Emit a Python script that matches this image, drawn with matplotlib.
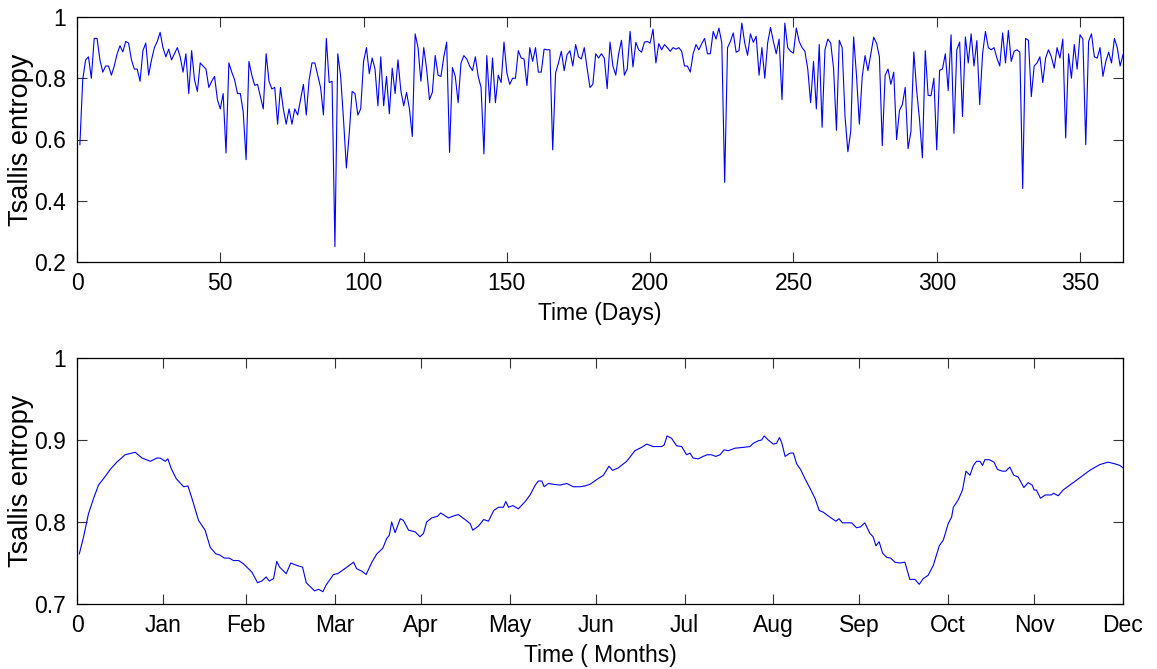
import numpy as np
import matplotlib
matplotlib.use("Agg")
import matplotlib.pyplot as plt

plt.rcParams['font.family'] = ['Liberation Sans', 'DejaVu Sans']

# ---- Top panel: daily Tsallis entropy (days 1..365) ----
daily_seg1 = [0.583, 0.795, 0.86, 0.87, 0.80, 0.93, 0.93, 0.86, 0.82, 0.84, 0.84, 0.81, 0.84, 0.88, 0.906,
              0.886, 0.92, 0.915, 0.86, 0.83, 0.83, 0.79, 0.89, 0.915, 0.81, 0.86, 0.90, 0.92, 0.95, 0.90,
              0.87, 0.895, 0.86, 0.88, 0.90, 0.87, 0.82, 0.88, 0.75, 0.89, 0.795, 0.757, 0.85, 0.84, 0.83, 0.77]
daily_seg2 = [0.79, 0.806, 0.73, 0.70, 0.75, 0.556, 0.85, 0.82, 0.795, 0.75, 0.75, 0.69, 0.534, 0.855, 0.81,
              0.777, 0.78, 0.74, 0.70, 0.88, 0.79, 0.765, 0.77, 0.65, 0.77, 0.70, 0.65, 0.70, 0.65, 0.70,
              0.68, 0.73, 0.78, 0.68, 0.795, 0.85, 0.85, 0.81, 0.77, 0.68, 0.93, 0.786, 0.79, 0.25, 0.88]
daily_seg3 = [0.806, 0.665, 0.507, 0.62, 0.757, 0.75, 0.68, 0.70, 0.855, 0.90, 0.815, 0.866, 0.83, 0.71, 0.87,
              0.71, 0.806, 0.684, 0.833, 0.75, 0.86, 0.76, 0.71, 0.754, 0.70, 0.61, 0.945, 0.90, 0.79, 0.90,
              0.83, 0.73, 0.754, 0.874, 0.81, 0.806, 0.87, 0.918, 0.558, 0.835, 0.806, 0.72, 0.85, 0.874, 0.863, 0.84]
daily_seg4 = [0.825, 0.87, 0.806, 0.77, 0.553, 0.874, 0.72, 0.866, 0.72, 0.81, 0.786, 0.918, 0.817, 0.78, 0.80,
              0.80, 0.89, 0.866, 0.863, 0.776, 0.90, 0.855, 0.90, 0.82, 0.82, 0.895, 0.893, 0.893, 0.566, 0.817,
              0.85, 0.888, 0.825, 0.877, 0.89, 0.84, 0.91, 0.87, 0.863, 0.90, 0.833, 0.77, 0.78, 0.88, 0.866]
daily_seg5 = [0.88, 0.866, 0.766, 0.918, 0.84, 0.81, 0.88, 0.924, 0.81, 0.83, 0.953, 0.837, 0.917, 0.893, 0.885,
              0.918, 0.92, 0.915, 0.96, 0.85, 0.913, 0.893, 0.91, 0.90, 0.888, 0.90, 0.895, 0.90, 0.888, 0.84,
              0.84, 0.82, 0.88, 0.91, 0.893, 0.913, 0.93, 0.88, 0.88, 0.953, 0.928, 0.964, 0.915, 0.46, 0.90]
daily_seg6 = [0.92, 0.948, 0.885, 0.89, 0.98, 0.915, 0.875, 0.945, 0.917, 0.937, 0.81, 0.90, 0.80, 0.915, 0.966,
              0.92, 0.88, 0.928, 0.73, 0.98, 0.90, 0.888, 0.882, 0.964, 0.92, 0.90, 0.888, 0.83, 0.72, 0.855,
              0.70, 0.91, 0.64, 0.893, 0.928, 0.915, 0.833, 0.63, 0.924, 0.90, 0.675, 0.56, 0.626, 0.935, 0.81, 0.65]
daily_seg7 = [0.806, 0.874, 0.825, 0.88, 0.934, 0.915, 0.87, 0.58, 0.81, 0.83, 0.78, 0.82, 0.60, 0.695, 0.714,
              0.77, 0.57, 0.626, 0.886, 0.76, 0.665, 0.54, 0.89, 0.744, 0.743, 0.80, 0.566, 0.826, 0.83, 0.88,
              0.76, 0.942, 0.62, 0.893, 0.918, 0.675, 0.935, 0.85, 0.945, 0.84, 0.923, 0.714, 0.88, 0.953, 0.90]
daily_seg8 = [0.893, 0.90, 0.866, 0.84, 0.948, 0.85, 0.956, 0.855, 0.888, 0.893, 0.885, 0.44, 0.93, 0.924, 0.74,
              0.84, 0.85, 0.87, 0.786, 0.866, 0.893, 0.87, 0.833, 0.90, 0.866, 0.928, 0.605, 0.88, 0.80, 0.91,
              0.83, 0.942, 0.928, 0.583, 0.92, 0.945, 0.87, 0.866, 0.90, 0.806, 0.855, 0.885, 0.85, 0.93, 0.90,
              0.84, 0.877]

daily_values = (daily_seg1 + daily_seg2 + daily_seg3 + daily_seg4 +
                daily_seg5 + daily_seg6 + daily_seg7 + daily_seg8)
days = np.arange(1, len(daily_values) + 1)

top_xticks = [0, 50, 100, 150, 200, 250, 300, 350]
top_yticks = [0.2, 0.4, 0.6, 0.8, 1.0]
top_yticklabels = ['0.2', '0.4', '0.6', '0.8', '1']

# ---- Bottom panel: smoothed entropy over the year ----
smooth_days = [0.8, 2.3, 4.0, 5.8, 7.5, 9.3, 11.8, 13.9, 16.8, 20.3, 22.7, 25.6, 27.9, 29.0, 30.8, 31.7,
               32.9, 34.6, 37.2, 38.7, 40.1, 42.4, 44.7, 46.5, 48.5, 49.7, 51.4, 53.1, 54.6, 56.4, 58.1,
               61.0, 63.0, 64.5, 66.0, 67.1, 68.6, 69.7, 70.7, 73.0, 74.6, 76.7, 78.7, 80.0, 82.9, 84.3,
               85.8, 86.9, 89.5, 91.0,
               94.2, 96.5, 97.6, 99.4, 100.9, 102.9, 104.6, 106.7, 108.1, 109.0, 109.8, 111.0, 112.8, 113.9,
               115.7, 118.0, 119.7, 120.9, 122.0, 123.8, 125.8, 126.9, 129.6, 131.9, 133.1, 135.4, 137.2,
               138.1, 140.1, 141.9, 143.6, 145.4, 147.1, 148.8, 149.6, 150.6, 152.1, 154.0, 156.4, 158.1,
               159.9, 161.0, 162.2, 163.0, 164.5, 166.2, 168.6, 170.9, 173.2, 175.6, 177.3, 179.0, 181.9,
               183.7, 185.6, 186.9, 188.9,
               191.8, 194.7, 197.0, 198.8, 201.1, 204.0, 204.9, 205.9, 207.5, 209.2, 211.0, 212.7, 213.9,
               215.0, 216.8, 218.5, 219.9, 221.4, 222.9, 224.4, 225.8, 227.3, 229.6, 232.5, 234.8, 236.0,
               237.7, 238.9, 239.8, 241.2, 243.0, 244.1, 245.1, 245.9, 247.1, 248.8, 250.0, 251.1, 252.5,
               254.0, 255.8, 257.5, 259.0, 260.4, 262.7, 264.8, 265.9, 267.1, 268.5, 270.3, 272.0, 273.4,
               274.9,
               276.7, 277.8, 278.8, 279.9, 281.1, 282.5, 283.9, 285.4, 287.1, 288.9, 290.6, 292.4, 293.9,
               295.3, 297.0, 298.8, 300.9, 302.3, 304.0, 305.2, 305.8, 307.5, 309.0, 310.2, 311.6, 312.8,
               313.9, 315.1, 316.0, 316.8, 318.3, 320.0, 321.2, 322.9, 324.1, 325.5, 326.9, 328.4, 330.4,
               331.9, 333.3, 334.0, 334.8, 336.2, 337.9, 340.0, 340.8, 342.4, 344.1, 348.8, 353.4, 356.9,
               359.8, 362.1, 363.9, 365.0]
smooth_values = [0.761, 0.782, 0.810, 0.829, 0.845, 0.853, 0.865, 0.873, 0.882, 0.885, 0.878, 0.874, 0.878,
                 0.878, 0.874, 0.877, 0.865, 0.853, 0.843, 0.844, 0.829, 0.802, 0.790, 0.769, 0.761, 0.760,
                 0.756, 0.756, 0.753, 0.753, 0.749, 0.739, 0.726, 0.728, 0.733, 0.728, 0.731, 0.752, 0.745,
                 0.737, 0.750, 0.747, 0.745, 0.726, 0.716, 0.718, 0.715, 0.723, 0.736, 0.737,
                 0.745, 0.751, 0.743, 0.740, 0.736, 0.751, 0.761, 0.768, 0.780, 0.784, 0.800, 0.787, 0.804,
                 0.802, 0.790, 0.788, 0.782, 0.786, 0.800, 0.805, 0.807, 0.811, 0.805, 0.808, 0.809, 0.803,
                 0.798, 0.790, 0.795, 0.803, 0.801, 0.814, 0.818, 0.818, 0.825, 0.818, 0.820, 0.816, 0.825,
                 0.833, 0.845, 0.850, 0.850, 0.843, 0.847, 0.846, 0.845, 0.847, 0.843, 0.843, 0.844, 0.846,
                 0.853, 0.857, 0.868, 0.863, 0.866,
                 0.874, 0.887, 0.891, 0.895, 0.892, 0.892, 0.894, 0.905, 0.902, 0.893, 0.892, 0.882, 0.884,
                 0.878, 0.877, 0.880, 0.882, 0.882, 0.880, 0.882, 0.888, 0.887, 0.890, 0.891, 0.892, 0.896,
                 0.899, 0.900, 0.905, 0.900, 0.895, 0.896, 0.903, 0.897, 0.880, 0.884, 0.884, 0.871, 0.864,
                 0.853, 0.841, 0.829, 0.814, 0.812, 0.806, 0.801, 0.804, 0.799, 0.799, 0.799, 0.793, 0.794,
                 0.799,
                 0.786, 0.782, 0.771, 0.776, 0.762, 0.757, 0.756, 0.751, 0.750, 0.751, 0.730, 0.730, 0.724,
                 0.731, 0.735, 0.747, 0.771, 0.778, 0.798, 0.806, 0.818, 0.827, 0.839, 0.862, 0.857, 0.869,
                 0.874, 0.874, 0.869, 0.876, 0.876, 0.873, 0.864, 0.862, 0.862, 0.867, 0.857, 0.855, 0.842,
                 0.848, 0.845, 0.839, 0.839, 0.829, 0.833, 0.833, 0.835, 0.832, 0.839, 0.851, 0.863, 0.870,
                 0.873, 0.871, 0.869, 0.866]

month_ticks = [0, 30, 59, 90, 120, 151, 181, 212, 243, 273, 304, 334, 365]
month_labels = ['0', 'Jan', 'Feb', 'Mar', 'Apr', 'May', 'Jun', 'Jul', 'Aug', 'Sep', 'Oct', 'Nov', 'Dec']
bottom_yticks = [0.7, 0.8, 0.9, 1.0]
bottom_yticklabels = ['0.7', '0.8', '0.9', '1']

W, H = 1157, 669
fig = plt.figure(figsize=(W / 100, H / 100), dpi=100)
fs = 16.5
fs_y = 19.5

def style(ax):
    ax.tick_params(direction='in', top=True, right=True, length=7, width=0.8,
                   labelsize=fs, color='#333333')
    ax.tick_params(axis='x', pad=7)
    ax.tick_params(axis='y', pad=8)
    for s in ax.spines.values():
        s.set_linewidth(0.9)

ax1 = fig.add_axes([77 / W, 1 - 262 / H, (1123 - 77) / W, (262 - 17) / H])
ax1.plot(days, daily_values, color='#0000ff', lw=0.8)
ax1.set_xlim(0, 365)
ax1.set_ylim(0.2, 1.0)
ax1.set_xticks(top_xticks)
ax1.set_yticks(top_yticks)
ax1.set_yticklabels(top_yticklabels)
ax1.set_xlabel('Time (Days)', fontsize=fs, labelpad=5)
ax1.set_ylabel('Tsallis entropy', fontsize=fs_y, labelpad=0)
style(ax1)

ax2 = fig.add_axes([77 / W, 1 - 604 / H, (1123 - 77) / W, (604 - 358) / H])
ax2.plot(smooth_days, smooth_values, color='#0000ff', lw=0.8)
ax2.set_xlim(0, 365)
ax2.set_ylim(0.7, 1.0)
ax2.set_xticks(month_ticks)
ax2.set_xticklabels(month_labels)
ax2.set_yticks(bottom_yticks)
ax2.set_yticklabels(bottom_yticklabels)
ax2.set_xlabel('Time ( Months)', fontsize=fs, labelpad=5)
ax2.set_ylabel('Tsallis entropy', fontsize=fs_y, labelpad=0)
style(ax2)

fig.savefig('out.png', dpi=100)
